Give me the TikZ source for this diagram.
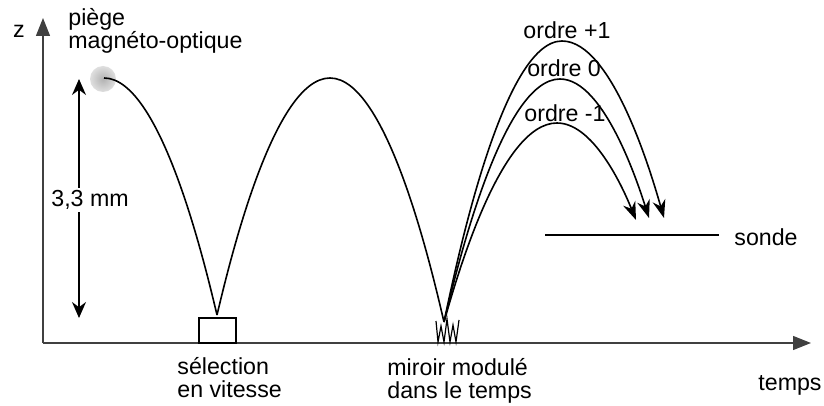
\documentclass[tikz,border=0pt]{standalone}
\usepackage{fontspec}
\setmainfont{Liberation Sans}
\usetikzlibrary{arrows.meta,positioning}
\tikzset{
  axis/.style={draw=black!75,line width=.6pt,-{Triangle[length=9pt,width=7pt]}},
  traj/.style={line width=.8pt},
  order/.style={traj,-{Stealth[length=9pt,width=6.5pt]}},
  lbl/.style={font=\fontsize{11.6}{11.5}\selectfont,inner sep=0pt,align=left},
  selbox/.style={draw,line width=.6pt,minimum width=18.5pt,minimum height=12.5pt,inner sep=0pt}
}
\begin{document}
\begin{tikzpicture}[x=.5pt,y=-.5pt]
  \useasboundingbox (0,0) rectangle (824,406);
  % axes
  \coordinate (O) at (43,343);
  \coordinate (zend) at (43,18);
  \coordinate (tend) at (811,343);
  \draw[axis] (O)--(zend);
  \draw[axis] (O)--(tend);
  \node[lbl] (z) at (19,31) {z};
  \node[lbl,anchor=base west] (temps) at (758,390) {temps};

  % trap
  \shade[inner color=gray!60,outer color=gray!25] (103,79) circle (6.5pt);
  \coordinate (trap) at (104,78);
  \node[lbl,anchor=base west] (mot) at (68,49) {piège\\magnéto-optique};

  % height
  \coordinate (htop) at (79,79);
  \coordinate (hbot) at (79,318);
  \draw[line width=.6pt,{Stealth[length=8pt,width=7pt]}-{Stealth[length=8pt,width=7pt]}] (htop)--(hbot);
  \node[lbl,fill=white,inner sep=1pt,anchor=west] (h) at (49,200) {3,3 mm};

  % velocity selection
  \node[selbox] (sel) at (217.5,330.5) {};
  \coordinate (s) at (217,315);
  \node[lbl,anchor=base west] (sellbl) at (177,397) {sélection\\en vitesse};

  % mirror
  \coordinate (m) at (444,322);
  \draw[line width=.6pt] (436,321)--(438,342)--(441,326)--(444,342)--(447,319)--(450,342)--(453,325)--(456,342)--(459,320);
  \node[lbl,anchor=base west] (mirlbl) at (387,398) {miroir modulé\\dans le temps};

  % trajectories
  \draw[traj] (trap) parabola (s);
  \draw[traj] (s) parabola bend (330,78) (m);
  \coordinate (p1) at (562,41);
  \coordinate (p0) at (560,79);
  \coordinate (pm) at (557,123);
  \coordinate (e1) at (664,218);
  \coordinate (e0) at (649,218);
  \coordinate (em) at (636,220);
  \draw[order] (m) parabola bend (p1) (e1);
  \draw[order] (m) parabola bend (p0) (e0);
  \draw[order] (m) parabola bend (pm) (em);
  \node[lbl] (o1) at (567,30) {ordre +1};
  \node[lbl] (o0) at (564,68) {ordre 0};
  \node[lbl] (om) at (565,113) {ordre -1};

  % probe
  \coordinate (pa) at (545,235);
  \coordinate (pb) at (719,235);
  \draw[line width=1.3pt] (pa)--(pb);
  \node[lbl,anchor=west] (sonde) at (734,237) {sonde};
\end{tikzpicture}
\end{document}
